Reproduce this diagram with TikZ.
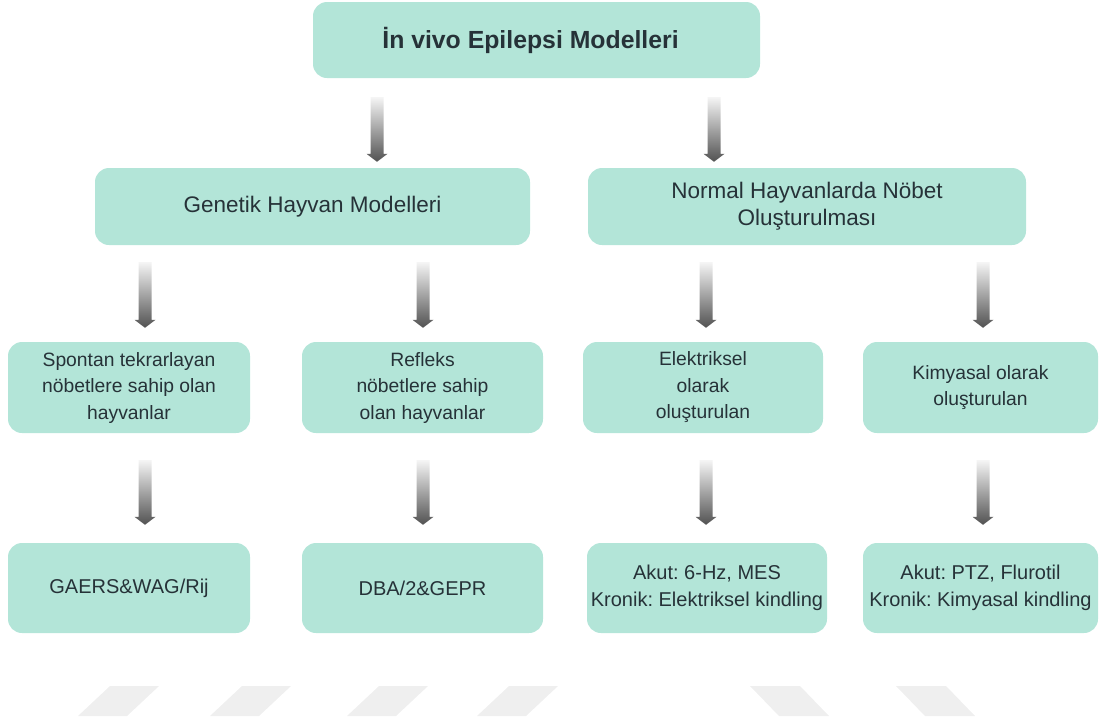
\documentclass[tikz,border=0pt]{standalone}
\usepackage{fontspec}
\setmainfont{Liberation Sans}
\usetikzlibrary{calc}
\definecolor{boxfill}{HTML}{B3E5D8}
\definecolor{txt}{HTML}{263238}
\definecolor{mark}{HTML}{EFEFEF}
\frenchspacing

% shaded block arrow: #1 = x position, #2 = upper node, #3 = lower node,
% #4 = gap below upper node, #5 = gap above lower node
\newcommand\gradarrow[5]{%
  \shade[top color=white!96!black, bottom color=black!68]
    let \p1=(#2.south), \p2=(#3.north) in
    ({#1pt-6.5pt},{\y1-#4pt}) -- ({#1pt+6.5pt},{\y1-#4pt})
    -- ({#1pt+6.5pt},{\y2+#5pt+8pt}) -- ({#1pt+10.5pt},{\y2+#5pt+8pt})
    -- ({#1pt},{\y2+#5pt}) -- ({#1pt-10.5pt},{\y2+#5pt+8pt})
    -- ({#1pt-6.5pt},{\y2+#5pt+8pt}) -- cycle;}

\begin{document}
\begin{tikzpicture}[x=1pt,y=-1pt,
  box/.style={fill=boxfill, rounded corners=14pt, inner sep=0pt, align=center,
    text=txt, font=\fontsize{22.5}{27}\selectfont},
  small/.style={font=\fontsize{19.3}{26.5}\selectfont},
  leaf/.style={font=\fontsize{20}{27}\selectfont},
  slash/.style={fill=mark}]
\useasboundingbox (0,0) rectangle (1099,721);

% level 1
\node[box, minimum width=447pt, minimum height=76pt,
  font=\bfseries\fontsize{24.8}{28}\selectfont] (root) at (536.5,40) {İn vivo Epilepsi Modelleri\hspace*{12pt}};

% level 2
\node[box, minimum width=435pt, minimum height=77pt] (gen) at (312.5,206.5) {Genetik Hayvan Modelleri};
\node[box, minimum width=438pt, minimum height=77pt] (norm) at (807,206.5) {Normal Hayvanlarda Nöbet\\Oluşturulması};

% level 3
\node[box, small, minimum width=242pt, minimum height=91pt] (spon) at (129,387.5) {Spontan tekrarlayan\\nöbetlere sahip olan\\hayvanlar};
\node[box, small, minimum width=241pt, minimum height=91pt] (refl) at (422.5,387.5) {Refleks\\nöbetlere sahip\\olan hayvanlar};
\node[box, small, minimum width=240pt, minimum height=91pt] (elek) at (703,387.5) {Elektriksel\\olarak\\oluşturulan};
\node[box, small, minimum width=235pt, minimum height=91pt] (kimy) at (980.5,387.5) {Kimyasal olarak\\oluşturulan};

% level 4
\node[box, leaf, minimum width=242pt, minimum height=90pt] (gaers) at (129,588) {GAERS\&WAG/Rij};
\node[box, leaf, minimum width=241pt, minimum height=90pt] (dba) at (422.5,588) {DBA/2\&GEPR};
\node[box, leaf, minimum width=240pt, minimum height=90pt] (akut1) at (707,588) {Akut: 6-Hz, MES\\Kronik: Elektriksel kindling};
\node[box, leaf, minimum width=235pt, minimum height=90pt] (akut2) at (980.5,588) {Akut: PTZ, Flurotil\\Kronik: Kimyasal kindling};

% arrows
\gradarrow{377}{root}{gen}{19}{6}
\gradarrow{714}{root}{norm}{19}{6}
\gradarrow{145}{gen}{spon}{17}{14}
\gradarrow{423}{gen}{refl}{17}{14}
\gradarrow{706}{norm}{elek}{17}{14}
\gradarrow{983}{norm}{kimy}{17}{14}
\gradarrow{145}{spon}{gaers}{27}{18}
\gradarrow{423}{refl}{dba}{27}{18}
\gradarrow{706}{elek}{akut1}{27}{18}
\gradarrow{983}{kimy}{akut2}{27}{18}

% faint slanted marks along the bottom
\foreach \a in {159,291,428,558}
  \fill[slash] (\a,686) -- (\a-49,686) -- (\a-81,716) -- (\a-32,716) -- cycle;
\foreach \a in {750,896}
  \fill[slash] (\a,686) -- (\a+50,686) -- (\a+79,716) -- (\a+29,716) -- cycle;
\end{tikzpicture}
\end{document}
